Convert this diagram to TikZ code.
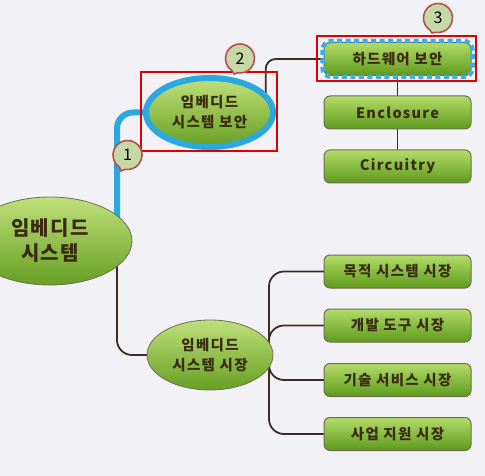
\documentclass[tikz,border=0pt]{standalone}
\usepackage{fontspec}
\setmainfont{Noto Sans CJK KR}
\usetikzlibrary{shapes.geometric,shapes.callouts}
\definecolor{bgc}{HTML}{F2F2F6}
\definecolor{gtop}{HTML}{B2DC68}
\definecolor{gbot}{HTML}{5E9A1C}
\definecolor{etop}{HTML}{BFE07A}
\definecolor{ebot}{HTML}{679F24}
\definecolor{bord}{HTML}{6E6E50}
\definecolor{txt}{HTML}{3A2A10}
\definecolor{conn}{HTML}{3E2C22}
\definecolor{hblue}{HTML}{2AA8E0}
\definecolor{dblue}{HTML}{3AAEE6}
\definecolor{hred}{HTML}{E00000}
\definecolor{cfill}{HTML}{C6D8A8}
\definecolor{cbord}{HTML}{B5504A}
\pgfdeclarelayer{bg}
\pgfdeclarelayer{paper}
\pgfsetlayers{paper,bg,main}
\tikzset{
  gbox/.style={rectangle, rounded corners=6pt, draw=bord, line width=1pt,
    top color=gtop, bottom color=gbot, minimum width=147pt, minimum height=33pt,
    inner sep=0pt, outer sep=0pt, text=txt,
    font=\fontsize{14.5}{16}\selectfont\bfseries\addfontfeatures{LetterSpace=9}},
  gell/.style={ellipse, draw=bord, line width=0.8pt, top color=etop, bottom color=ebot,
    inner sep=0pt, outer sep=0pt, text=txt, align=center},
  darkconn/.style={draw=conn, line width=1.8pt, rounded corners=15pt},
  blueconn/.style={draw=hblue, line width=6pt, rounded corners=16pt},
  redbox/.style={draw=hred, line width=2pt},
  hwdash/.style={draw=dblue, line width=4.5pt, dash pattern=on 5pt off 3.5pt, rounded corners=9pt},
  badge/.style={ellipse callout, draw=cbord, line width=1.6pt, fill=cfill,
    minimum width=29pt, minimum height=29pt, inner sep=0pt,
    callout pointer arc=25, font=\fontsize{16}{16}\selectfont, text=black}
}
\begin{document}
\begin{tikzpicture}[x=1pt,y=-1pt]
\begin{pgfonlayer}{paper}
\fill[bgc] (0,0) rectangle (485,476);
\end{pgfonlayer}
\useasboundingbox (0,0) rectangle (485,476);

% nodes
\node[gell, minimum width=164pt, minimum height=88pt,
  font=\fontsize{20}{25}\selectfont\bfseries\addfontfeatures{LetterSpace=6}] (root) at (50,241) {임베디드\\시스템};
\node[gell, draw=hblue, line width=6pt, minimum width=127pt, minimum height=69pt,
  font=\fontsize{14.5}{20}\selectfont\bfseries\addfontfeatures{LetterSpace=9}] (sec) at (209.5,112.5) {임베디드\\시스템 보안};
\node[gell, minimum width=126pt, minimum height=70pt,
  font=\fontsize{14.5}{20}\selectfont\bfseries\addfontfeatures{LetterSpace=9}] (mkt) at (210,355) {임베디드\\시스템 시장};

\node[gbox] (hw) at (397.5,59) {하드웨어 보안};
\node[gbox] (encl) at (397.5,112.5) {Enclosure};
\node[gbox] (circ) at (397.5,166.5) {Circuitry};

\node[gbox] (m1) at (397.5,271.5) {목적 시스템 시장};
\node[gbox] (m2) at (397.5,325.5) {개발 도구 시장};
\node[gbox] (m3) at (397.5,380) {기술 서비스 시장};
\node[gbox] (m4) at (397.5,434) {사업 지원 시장};

\coordinate (trunk) at (117,241);

\begin{pgfonlayer}{bg}
  \draw[darkconn] (trunk) |- (mkt.west);
  \draw[blueconn] (trunk) |- (sec.west);
  \draw[darkconn, rounded corners=10pt] (sec.16) |- (hw.west);
  \draw[darkconn] (hw.south) -- (encl.north);
  \draw[darkconn] (encl.south) -- (circ.north);
  \draw[darkconn] ([xshift=-4pt]mkt.east) |- (m1.west);
  \draw[darkconn] ([xshift=-4pt]mkt.east) |- (m2.west);
  \draw[darkconn] ([xshift=-4pt]mkt.east) |- (m3.west);
  \draw[darkconn] ([xshift=-4pt]mkt.east) |- (m4.west);
\end{pgfonlayer}

\draw[hwdash] ([xshift=-1.5pt,yshift=1.5pt]hw.north west) rectangle ([xshift=1.5pt,yshift=-1.5pt]hw.south east);

\node[redbox, minimum width=136pt, minimum height=79pt, inner sep=0pt] (r2) at (209,111.5) {};
\node[redbox, minimum width=159pt, minimum height=45pt, inner sep=0pt] (r3) at (396.5,58.5) {};

\node[badge, callout absolute pointer={(121,171)}] (c1) at (127.5,155) {1};
\node[badge, callout absolute pointer={(234,74)}] (c2) at (240,58.5) {2};
\node[badge, callout absolute pointer={(432,33)}] (c3) at (438,18) {3};
\end{tikzpicture}
\end{document}
